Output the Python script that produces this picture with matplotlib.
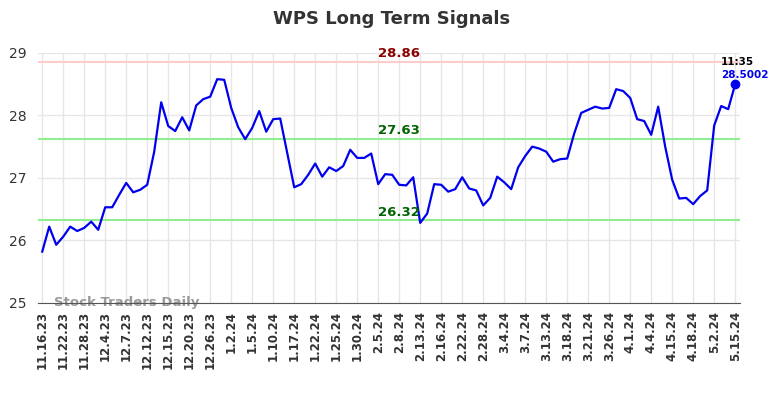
import numpy as np
import matplotlib
matplotlib.use("Agg")
import matplotlib.pyplot as plt

# price series (one value per trading day)
prices = [
    25.82, 26.22, 25.93, 26.06, 26.22, 26.15, 26.20, 26.30, 26.17, 26.53,
    26.53, 26.73, 26.92, 26.77, 26.81, 26.89, 27.42, 28.21, 27.83, 27.75,
    27.97, 27.76, 28.16, 28.26, 28.30, 28.58, 28.57, 28.12, 27.81, 27.62,
    27.80, 28.07, 27.74, 27.94, 27.95, 27.40, 26.85, 26.90, 27.05, 27.23,
    27.02, 27.17, 27.11, 27.19, 27.45, 27.32, 27.32, 27.39, 26.90, 27.06,
    27.05, 26.89, 26.88, 27.01, 26.28, 26.43, 26.90, 26.89, 26.78, 26.82,
    27.01, 26.83, 26.80, 26.56, 26.68, 27.02, 26.93, 26.82, 27.17, 27.35,
    27.50, 27.47, 27.42, 27.26, 27.30, 27.31, 27.71, 28.04, 28.09, 28.14,
    28.11, 28.12, 28.42, 28.39, 28.28, 27.94, 27.91, 27.69, 28.14, 27.50,
    26.97, 26.67, 26.68, 26.58, 26.71, 26.80, 27.84, 28.15, 28.10, 28.5002,
]

tick_labels = [
    "11.16.23", "11.22.23", "11.28.23", "12.4.23", "12.7.23", "12.12.23",
    "12.15.23", "12.20.23", "12.26.23", "1.2.24", "1.5.24", "1.10.24",
    "1.17.24", "1.22.24", "1.25.24", "1.30.24", "2.5.24", "2.8.24",
    "2.13.24", "2.16.24", "2.22.24", "2.28.24", "3.4.24", "3.7.24",
    "3.13.24", "3.18.24", "3.21.24", "3.26.24", "4.1.24", "4.4.24",
    "4.15.24", "4.18.24", "5.2.24", "5.15.24",
]

resistance = 28.86
mid_level = 27.63
support = 26.32
last_time = "11:35"

fig = plt.figure(figsize=(7.84, 3.98), dpi=100)
ax = fig.add_axes([0.0485, 0.239, 0.8955, 0.628])

x = np.arange(len(prices))
ax.plot(x, prices, color="#0000ee", linewidth=1.6, zorder=3)
ax.plot(x[-1], prices[-1], "o", color="#0000ee", markersize=6, zorder=4)

# signal lines
ax.axhline(resistance, color="#ffcccc", linewidth=1.5, zorder=2)
ax.axhline(mid_level, color="#90ee90", linewidth=1.5, zorder=2)
ax.axhline(support, color="#90ee90", linewidth=1.5, zorder=2)

label_x = 51
ax.text(label_x, resistance + 0.03, f"{resistance:.2f}", color="#8b0000",
        fontsize=9.5, fontweight="bold", ha="center", va="bottom")
ax.text(label_x, mid_level + 0.03, f"{mid_level:.2f}", color="#006400",
        fontsize=9.5, fontweight="bold", ha="center", va="bottom")
ax.text(label_x, support + 0.03, f"{support:.2f}", color="#006400",
        fontsize=9.5, fontweight="bold", ha="center", va="bottom")

# last price annotation
ax.text(x[-1] - 2, prices[-1] + 0.27, last_time, color="black", fontsize=7.5,
        fontweight="bold", ha="left", va="bottom")
ax.text(x[-1] - 2, prices[-1] + 0.07, f"{prices[-1]:.4f}", color="#0000ee",
        fontsize=7.5, fontweight="bold", ha="left", va="bottom")

ax.text(1.7, 25.0, "Stock Traders Daily", color="#999999", fontsize=9.5,
        fontweight="bold", ha="left", va="center", zorder=1)

ax.set_xlim(-0.6, 99.7)
ax.set_ylim(25, 29)
ax.set_yticks([25, 26, 27, 28, 29])
ax.set_xticks(x[::3])
ax.set_xticklabels(tick_labels, rotation=90, fontsize=8.5, fontweight="bold",
                   color="#333333")
ax.tick_params(axis="y", labelsize=10, colors="#333333", length=0, pad=8)
ax.tick_params(axis="x", length=0, pad=6)

ax.grid(True, color="#e6e6e6", linewidth=1)
ax.set_axisbelow(True)
for side in ["top", "right", "left"]:
    ax.spines[side].set_visible(False)
ax.spines["bottom"].set_color("#555555")

fig.suptitle("WPS Long Term Signals", x=0.5, y=0.975, fontsize=13,
             fontweight="bold", color="#333333")

fig.savefig("out.png", dpi=100)
